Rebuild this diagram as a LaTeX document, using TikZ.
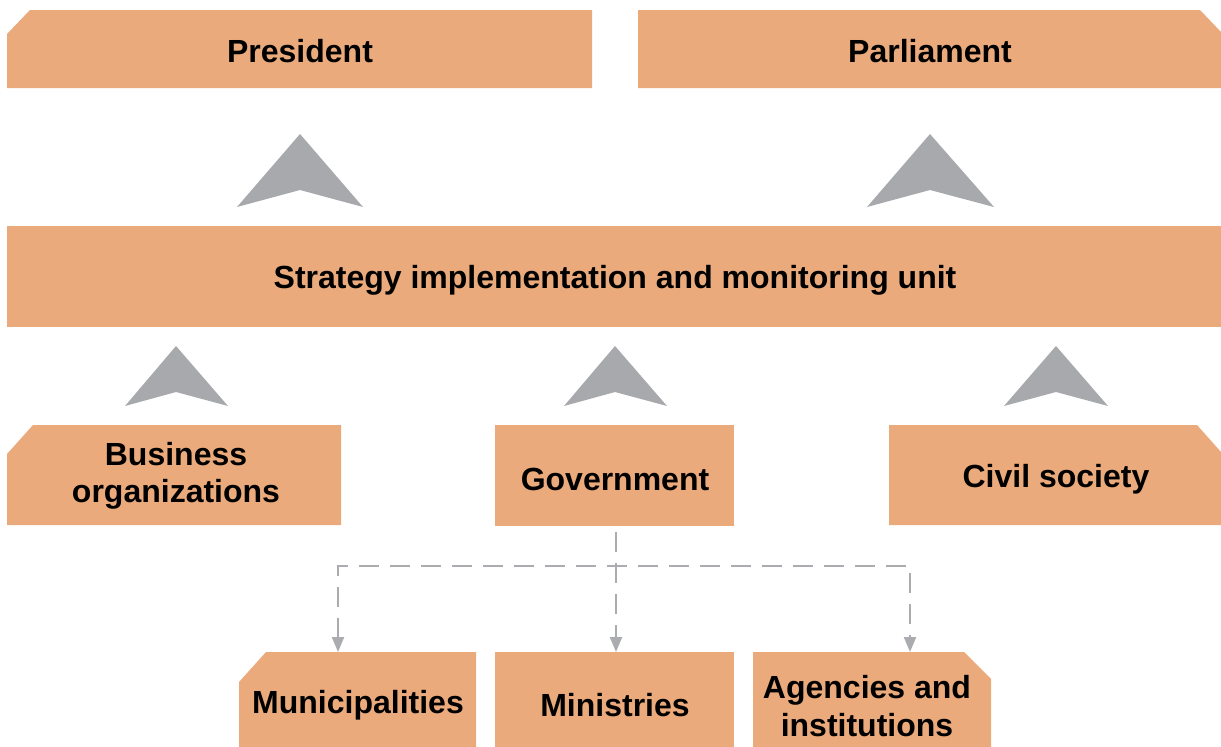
\documentclass[tikz,border=0pt]{standalone}
\usepackage{fontspec}
\setmainfont{Liberation Sans}
\usetikzlibrary{arrows.meta}
\definecolor{boxorange}{RGB}{234,170,123}
\definecolor{chevgray}{RGB}{167,169,172}
\definecolor{dashgray}{RGB}{170,172,175}
\tikzset{
  boxfill/.style={fill=boxorange, draw=none},
  chev/.style={fill=chevgray, draw=none},
  lbl/.style={font=\bfseries\fontsize{32}{37.5}\selectfont, align=center, inner sep=0pt, text=black},
  dl/.style={draw=dashgray, line width=2.2pt, dash pattern=on 20pt off 11pt},
  tip/.style={-{Triangle[length=15pt,width=12pt]}}
}
\begin{document}
\begin{tikzpicture}[x=1pt,y=-1pt]
\useasboundingbox (0,0) rectangle (1221,747);
% boxes
\fill[boxorange] (7,34) -- (30,10) -- (592,10) -- (592,88) -- (7,88) -- cycle;
\fill[boxorange] (638,10) -- (1200,10) -- (1221,32) -- (1221,88) -- (638,88) -- cycle;
\fill[boxorange] (7,226) rectangle (1221,327);
\fill[boxorange] (7,454) -- (33,425) -- (341,425) -- (341,525) -- (7,525) -- cycle;
\fill[boxorange] (495,425) rectangle (734,526);
\fill[boxorange] (889,425) -- (1197,425) -- (1221,452) -- (1221,525) -- (889,525) -- cycle;
\fill[boxorange] (239,682) -- (266,652) -- (476,652) -- (476,747) -- (239,747) -- cycle;
\fill[boxorange] (495,652) rectangle (734,747);
\fill[boxorange] (753,652) -- (964,652) -- (991,679) -- (991,747) -- (753,747) -- cycle;
% labels
\node[lbl] (president) at (300,51) {President};
\node[lbl] (parliament) at (930,51) {Parliament};
\node[lbl] (unit) at (615,280) {Strategy implementation and monitoring unit};
\node[lbl] (business) at (176,476) {Business\\organizations};
\node[lbl] (government) at (615,479) {Government};
\node[lbl] (civil) at (1056,479) {Civil society};
\node[lbl] (muni) at (358,705) {Municipalities};
\node[lbl] (ministries) at (615,705) {Ministries};
\node[lbl] (agencies) at (867,706) {Agencies and\\institutions};
% chevrons
\fill[chev] (300,134) -- (363,207) -- (300,190) -- (237,207) -- cycle;
\fill[chev] (930,134) -- (994,207) -- (930,190) -- (867,207) -- cycle;
\fill[chev] (176,346) -- (228,406) -- (176,392) -- (125,406) -- cycle;
\fill[chev] (615,346) -- (667,406) -- (615,392) -- (564,406) -- cycle;
\fill[chev] (1056,346) -- (1108,406) -- (1056,392) -- (1004,406) -- cycle;
% dashed connectors
\coordinate (govbot) at (616,532);
\coordinate (mintop) at (616,652);
\coordinate (munitop) at (338,652);
\coordinate (agtop) at (910,652);
\coordinate (hl) at (338,566);
\coordinate (hr) at (910,566);
\draw[dl,{Triangle[length=15pt,width=12pt]}-{Triangle[length=15pt,width=12pt]}] (munitop) -- (hl) -- (hr) -- (agtop);
\draw[dl,tip] (govbot) -- (mintop);
\end{tikzpicture}
\end{document}
